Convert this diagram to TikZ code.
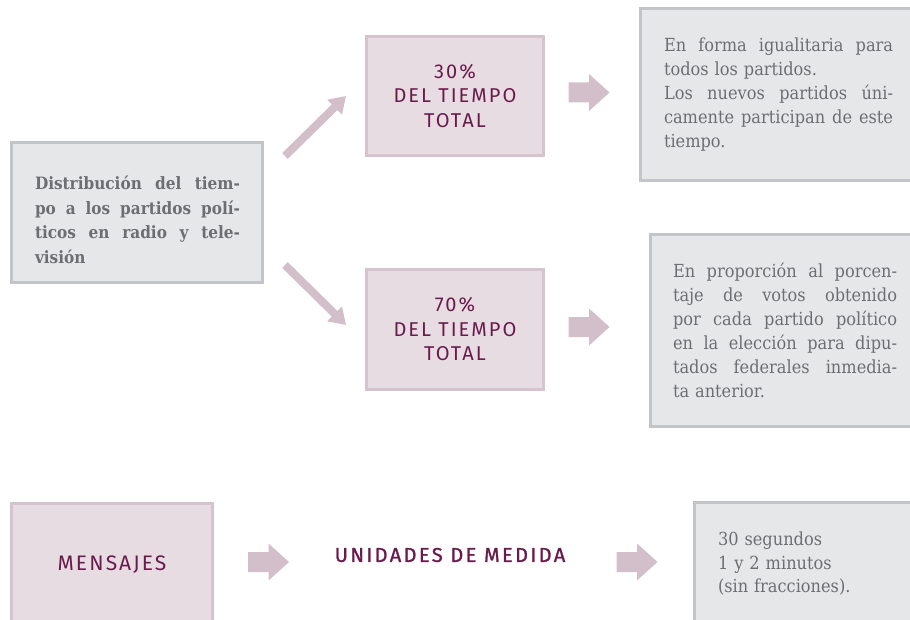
\documentclass[tikz,border=0pt]{standalone}
\usepackage{fontspec}
\setmainfont{DejaVu Serif Condensed}[BoldFont={DejaVu Serif Condensed Bold}]
\newfontfamily\dinfont[LetterSpace=10]{Fira Sans}
\newfontfamily\dinfontb[LetterSpace=12,FakeBold=1.2]{Fira Sans}
\usetikzlibrary{arrows.meta}
\definecolor{graytxt}{HTML}{6D6E71}
\definecolor{grayfill}{HTML}{E6E7E9}
\definecolor{grayline}{HTML}{C3C4C7}
\definecolor{pinkfill}{HTML}{E7DCE1}
\definecolor{pinkline}{HTML}{D5C3CD}
\definecolor{arrowc}{HTML}{D2BFCA}
\definecolor{purp}{HTML}{6A1B4D}
\newcommand\jl[2]{\leavevmode\hbox to #1{\spaceskip=0.3em plus 1fil\relax #2}}
\newcommand\blockarr[2]{\fill[arrowc] (#1-20.5,#2-10) -- (#1,#2-10) -- (#1,#2-18.5) -- (#1+20.5,#2) -- (#1,#2+18.5) -- (#1,#2+10) -- (#1-20.5,#2+10) -- cycle;}
\tikzset{
  graybox/.style={draw=grayline, fill=grayfill, line width=3pt, inner sep=0pt, text=graytxt, align=left},
  pinkbox/.style={draw=pinkline, fill=pinkfill, line width=3pt, inner sep=0pt, text=purp, align=center, font=\dinfont\fontsize{20}{24.5}\selectfont},
  serif/.style={font=\fontsize{18}{24}\selectfont},
  bodytext/.style={text=graytxt, inner sep=0pt, align=left},
  diag/.style={draw=arrowc, line width=8pt, -{Triangle[width=20pt,length=16pt]}},
}
\begin{document}
\begin{tikzpicture}[x=1pt,y=-1pt]
\useasboundingbox (0,0) rectangle (910,620);
\clip (0,0) rectangle (910,620);
\fill[white] (0,0) rectangle (910,620);

% left box
\node[graybox, minimum width=251pt, minimum height=140pt] (dist) at (137,212.5) {};
\node[bodytext, text width=205pt, font=\bfseries\fontsize{17}{24.5}\selectfont] (disttext) at (137.5,220)
  {\jl{205pt}{Distribución del tiem-}\\
   \jl{205pt}{po a los partidos polí-}\\
   \jl{205pt}{ticos en radio y tele-}\\
   visión};

% pink boxes
\node[pinkbox, minimum width=177pt, minimum height=119pt] (p30) at (455,96)
  {30\%\\DEL TIEMPO\\TOTAL};
\node[pinkbox, minimum width=177pt, minimum height=120pt] (p70) at (455,329.5)
  {70\%\\DEL TIEMPO\\TOTAL};

% right text boxes
\node[graybox, serif, minimum width=276pt, minimum height=172pt, text width=229pt] (t1) at (778.5,94.5)
  {\jl{229pt}{En forma igualitaria para}\\
   todos los partidos.\\
   \jl{229pt}{Los nuevos partidos úni-}\\
   \jl{229pt}{camente participan de este}\\
   tiempo.};
\node[graybox, serif, minimum width=269pt, minimum height=192pt, text width=224pt] (t2) at (785,330.5)
  {\jl{224pt}{En proporción al porcen-}\\
   \jl{224pt}{taje de votos obtenido}\\
   \jl{224pt}{por cada partido político}\\
   \jl{224pt}{en la elección para dipu-}\\
   \jl{224pt}{tados federales inmedia-}\\
   ta anterior.};

% diagonal arrows
\coordinate (u1) at (285,156);
\coordinate (u2) at (346,96);
\coordinate (d1) at (285,265);
\coordinate (d2) at (346,325);
\draw[diag] (u1) -- (u2);
\draw[diag] (d1) -- (d2);

% block arrows
\blockarr{589}{92.5}
\blockarr{589}{327}

% bottom row
\node[pinkbox, minimum width=201pt, minimum height=123pt, font=\dinfont\fontsize{21}{25}\selectfont] (msg) at (112,565)
  {MENSAJES};
\blockarr{268.5}{562}
\node[text=purp, font=\dinfontb\fontsize{20}{25}\selectfont, inner sep=0pt] (uni) at (450,555) {UNIDADES DE MEDIDA};
\blockarr{637}{562}
\node[graybox, minimum width=247pt, minimum height=124pt, text width=200pt,
      font=\fontsize{18}{23.5}\selectfont] (t3) at (818,564)
  {30 segundos\\1 y 2 minutos\\(sin fracciones).};
\end{tikzpicture}
\end{document}
